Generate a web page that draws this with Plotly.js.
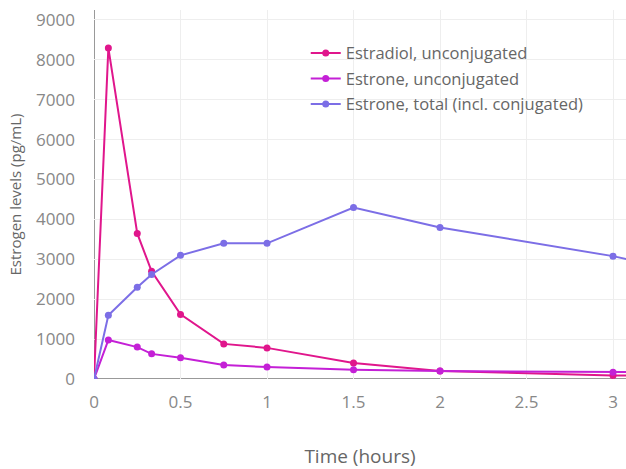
<!DOCTYPE html>
<html>
<head>
<meta charset="utf-8">
<script src="https://cdn.plot.ly/plotly-3.0.1.min.js"></script>
<style>html,body{margin:0;padding:0;background:#fff;}#chart{width:626px;height:469px;}</style>
</head>
<body>
<div id="chart"></div>
<script>
const timeHours = [0, 0.083, 0.25, 0.333, 0.5, 0.75, 1, 1.5, 2, 3, 4];
const estradiolUnconj = [0, 8300, 3650, 2700, 1620, 880, 780, 400, 200, 90, 60];
const estroneUnconj = [0, 980, 800, 630, 530, 350, 300, 230, 200, 170, 150];
const estroneTotal = [0, 1600, 2300, 2620, 3100, 3400, 3400, 4300, 3800, 3080, 2100];
const seriesNames = ["Estradiol, unconjugated", "Estrone, unconjugated", "Estrone, total (incl. conjugated)"];
const seriesColors = ["#e0168c", "#c420d6", "#7c6ee6"];

const seriesData = [estradiolUnconj, estroneUnconj, estroneTotal];
const traces = seriesData.map((vals, i) => ({
  x: timeHours,
  y: vals,
  name: seriesNames[i],
  legendgroup: "g" + i,
  type: "scatter",
  mode: "lines+markers",
  line: {color: seriesColors[i], width: 2},
  marker: {color: seriesColors[i], size: 7}
}));

const layout = {
  width: 626,
  height: 469,
  margin: {l: 94, r: 0, t: 10, b: 90},
  paper_bgcolor: "#fff",
  plot_bgcolor: "#fff",
  font: {family: "Open Sans, verdana, arial, sans-serif", color: "#777", size: 15},
  showlegend: true,
  legend: {
    x: 0.398, y: 0.93, xanchor: "left", yanchor: "top",
    bgcolor: "rgba(255,255,255,0)",
    font: {size: 16.5, color: "#666"},
    traceorder: "grouped",
    tracegroupgap: 1
  },
  xaxis: {
    range: [0, 3.075],
    dtick: 0.5,
    tick0: 0,
    showgrid: true,
    gridcolor: "#eee",
    zeroline: false,
    showline: false,
    ticks: "",
    ticklabelstandoff: 11,
    automargin: false,
    tickfont: {size: 17, color: "#888"},
    title: {text: "Time (hours)", font: {size: 19, color: "#666"}, standoff: 38}
  },
  yaxis: {
    range: [0, 9250],
    dtick: 1000,
    showgrid: true,
    gridcolor: "#eee",
    zeroline: false,
    showline: false,
    ticks: "",
    ticklabelstandoff: 18,
    automargin: false,
    tickfont: {size: 17, color: "#888"},
    title: {text: "Estrogen levels (pg/mL)", font: {size: 15, color: "#666"}, standoff: 10}
  },
  shapes: [
    {type: "line", xref: "x", yref: "paper", x0: 0, x1: 0, y0: 0, y1: 1, line: {color: "#999", width: 2}, layer: "below"},
    {type: "line", xref: "paper", yref: "y", x0: 0, x1: 1, y0: 0, y1: 0, line: {color: "#999", width: 2}, layer: "below"}
  ]
};

Plotly.newPlot("chart", traces, layout, {displayModeBar: false, staticPlot: true});
</script>
</body>
</html>
